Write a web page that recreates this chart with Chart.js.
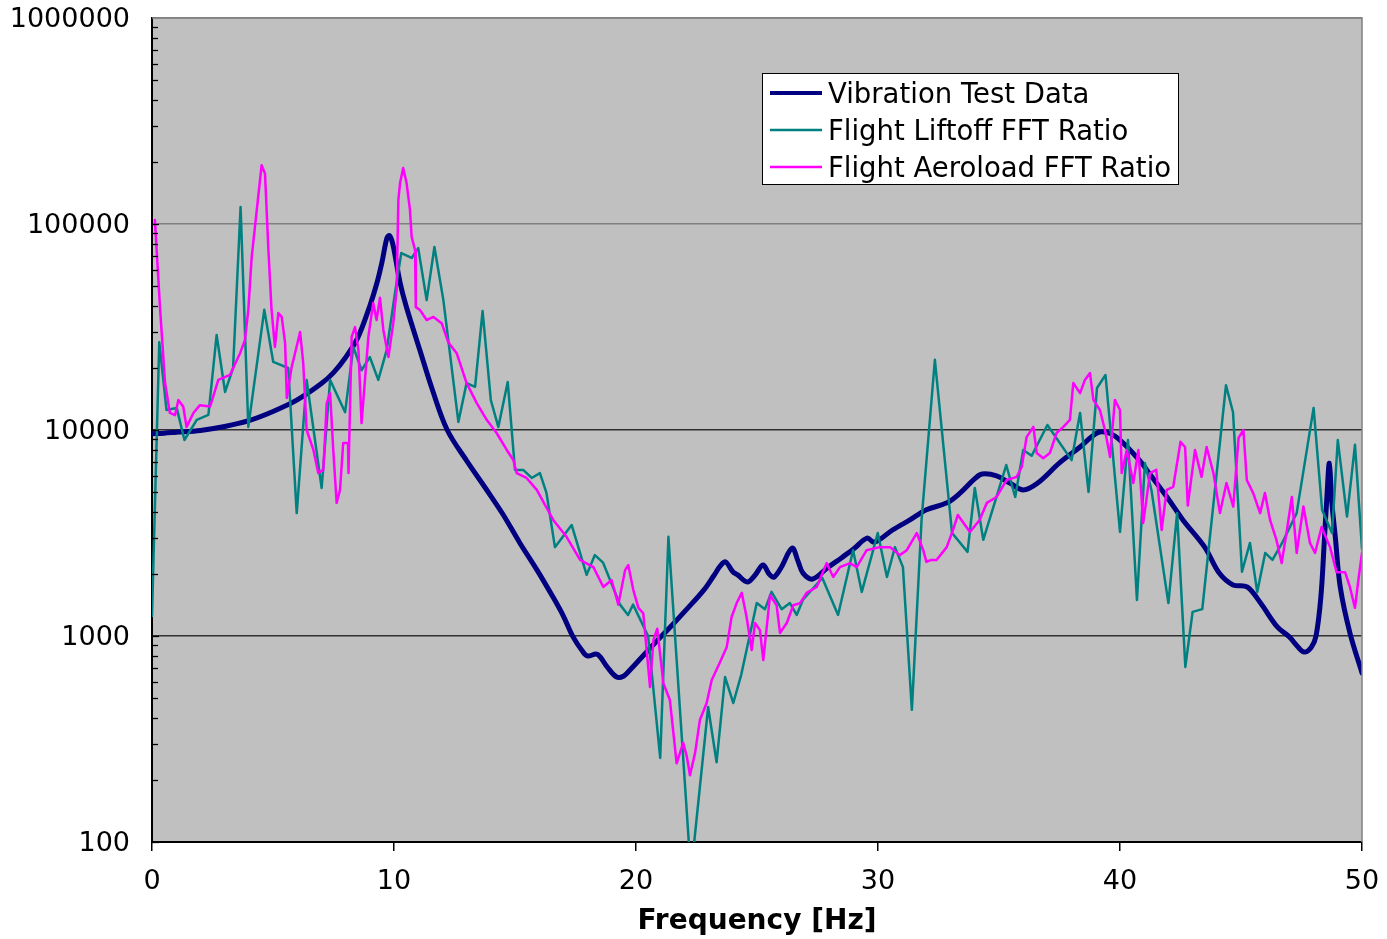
<!DOCTYPE html>
<html>
<head>
<meta charset="utf-8">
<script src="https://cdn.jsdelivr.net/npm/chart.js@4.4.1/dist/chart.umd.min.js"></script>
<style>
html,body{margin:0;padding:0;background:#fff;}
#wrap{width:1387px;height:939px;position:relative;}
</style>
</head>
<body>
<div id="wrap"><canvas id="c" width="1387" height="939"></canvas></div>
<script>
// ---------- DATA ----------
const seriesNames = ["Vibration Test Data", "Flight Liftoff FFT Ratio", "Flight Aeroload FFT Ratio"];
const xTicks = [0, 10, 20, 30, 40, 50];
const yTicks = [100, 1000, 10000, 100000, 1000000];

const vibFreq = [0,0.5,1,2,3,4,5,6,7,7.5,8,8.5,9,9.3,9.5,9.7,9.8,9.9,10.0,10.25,10.5,11.07,11.6,12.2,13.0,13.84,14.5,15.2,15.9,16.57,17.0,17.4,17.8,18.0,18.4,18.8,19.2,19.5,19.75,20.2,20.8,21.4,22.1,22.8,23.2,23.5,23.7,24.0,24.2,24.6,24.9,25.25,25.5,25.7,26.0,26.45,26.7,26.9,27.3,27.9,28.5,29.0,29.55,29.8,30.0,30.6,31.3,32.0,32.85,33.4,34.0,34.3,34.9,35.45,36.0,36.6,37.5,38.35,39.05,39.5,40.0,40.8,41.2,41.94,42.6,43.5,44.1,44.67,45.25,45.8,46.5,47.0,47.3,47.6,47.9,48.1,48.3,48.45,48.55,48.65,48.75,48.9,49.1,49.5,50.0];
const vibVal = [9600,9650,9750,9950,10400,11100,12300,14000,16800,19000,22500,28000,40000,52000,65000,85000,88000,84000,75000,52000,40000,24400,15500,10000,7100,5100,3900,2830,2100,1545,1250,990,840,800,815,710,632,640,684,780,930,1100,1350,1670,1950,2200,2290,2050,1980,1830,1960,2210,2000,1930,2150,2670,2300,2020,1890,2140,2400,2650,2990,2860,2900,3270,3650,4100,4430,4950,5800,6110,5990,5530,5120,5530,6920,8270,9670,9700,8940,7140,6180,4730,3660,2700,2020,1770,1730,1450,1107,990,900,836,880,1000,1545,3000,4730,6900,4500,3000,1730,1035,661];

const liftFreq = [0,0.3,0.6,1.02,1.34,1.85,2.33,2.67,3.02,3.35,3.66,3.98,4.64,5.01,5.63,5.98,6.39,7.01,7.36,7.98,8.32,8.66,9.0,9.35,9.7,10.04,10.3,10.73,11.0,11.35,11.67,12.04,12.66,13.0,13.35,13.66,14.0,14.31,14.7,15.0,15.34,15.69,16.03,16.3,16.65,17.34,17.96,18.3,18.64,19.34,19.67,19.88,20.5,21.0,21.34,22.27,22.98,23.33,23.68,24.02,24.35,24.99,25.33,25.6,26.02,26.36,26.64,26.9,27.7,28.35,28.97,29.33,29.99,30.37,30.7,31.03,31.4,31.8,32.35,33.06,33.7,34.0,34.35,35.3,35.67,36.0,36.35,37.0,38.0,38.35,38.7,39.05,39.4,40.0,40.33,40.7,41.03,41.3,42.0,42.36,42.7,43.0,43.4,44.38,44.67,45.04,45.37,45.67,46.0,46.3,46.7,47.3,48.0,48.35,48.76,49.0,49.38,49.71,50.0];
const liftVal = [1250,26700,12500,12800,8940,11190,11830,28900,15300,20000,121000,10350,38300,21400,20000,3950,17500,5230,17500,12200,25300,19500,22600,17500,24500,46200,72300,68400,76400,42700,77300,42700,10940,16900,16200,37800,13990,10350,17100,6400,6400,5850,6180,4950,2700,3460,1980,2470,2270,1420,1265,1420,1000,256,3030,70,452,244,632,473,650,1445,1350,1637,1350,1445,1265,1500,1914,1265,2610,1637,3160,1934,2700,2160,438,3660,21900,3160,2560,5230,2930,6760,4730,8000,7500,10580,7140,12100,5000,16000,18500,3200,8940,1497,6920,5100,1445,3950,708,1310,1350,16500,12200,2050,2830,1637,2530,2340,2830,3950,12800,4100,3160,8940,3800,8470,2650];

const aeroFreq = [0.12,0.33,0.54,0.74,0.95,1.09,1.29,1.43,1.71,1.98,2.4,2.74,3.22,3.64,3.84,3.98,4.12,4.33,4.53,4.67,4.81,4.94,5.08,5.22,5.36,5.5,5.57,5.77,5.91,6.12,6.25,6.39,6.67,6.87,7.08,7.22,7.36,7.49,7.63,7.77,7.9,8.1,8.12,8.25,8.39,8.53,8.66,8.8,8.94,9.14,9.28,9.42,9.56,9.77,9.97,10.11,10.18,10.25,10.38,10.52,10.66,10.73,10.87,10.9,11.07,11.35,11.63,11.97,12.24,12.59,13.0,13.42,13.83,14.24,14.66,14.93,15.07,15.48,15.9,16.58,17.13,17.69,18.24,18.65,18.99,19.27,19.55,19.68,19.89,20.1,20.3,20.58,20.72,20.88,21.13,21.4,21.68,21.95,22.1,22.23,22.44,22.64,22.92,23.13,23.47,23.75,23.95,24.16,24.37,24.57,24.78,24.92,25.12,25.26,25.54,25.81,25.95,26.23,26.5,26.78,27.05,27.47,27.88,28.15,28.43,28.84,29.12,29.53,30.08,30.5,30.9,31.19,31.6,31.87,32.0,32.2,32.42,32.84,33.1,33.3,33.8,34.2,34.5,34.9,35.32,35.73,35.94,36.14,36.42,36.56,36.83,37.1,37.38,37.66,37.93,38.07,38.35,38.55,38.76,38.9,39.17,39.38,39.59,39.79,40.0,40.07,40.28,40.55,40.76,40.96,41.24,41.5,41.72,41.93,42.2,42.5,42.69,42.8,43.1,43.37,43.58,43.86,44.13,44.4,44.68,44.9,45.1,45.24,45.5,45.79,45.99,46.2,46.47,46.68,46.88,47.1,47.3,47.58,47.85,48.06,48.33,48.68,48.95,49.3,49.5,49.71,49.85,50.0];
const aeroVal = [104500,39500,16900,12100,11800,14000,13000,10350,12100,13200,13000,17500,18500,23600,27300,38300,69200,117000,193000,176000,74800,38300,25300,37000,35400,26400,14300,20200,23600,29900,21100,10000,8000,6180,6400,13500,15100,8000,4430,5120,8640,8640,6180,28300,31600,24500,10800,17500,28300,41400,34200,43800,30600,22600,33000,47900,131000,158000,187000,158000,117000,86500,74800,39500,38300,34200,35400,33000,26700,23600,16900,13500,11200,9670,8000,7150,6180,5850,5120,3660,3030,2340,2160,1730,1870,1420,2090,2210,1670,1370,1290,565,955,1085,590,489,241,303,260,211,270,391,473,611,745,885,1237,1445,1620,1237,855,1156,1070,764,1580,1410,1035,1156,1410,1445,1620,1730,2260,1934,2160,2260,2160,2610,2700,2700,2470,2610,3160,2610,2290,2340,2340,2700,3270,3870,3200,3660,4430,4730,5720,5920,6610,9240,10350,7730,7300,7730,9670,10350,11200,16900,15100,17500,18900,14000,12500,10000,7400,14000,12500,6180,8000,5530,8000,3540,6180,6400,3270,5120,5300,8760,8270,4300,8000,5920,8270,6180,3950,5530,4250,9150,10000,5720,4950,3950,4950,3660,2910,2260,3160,4730,2530,4250,2830,2530,3380,2700,2040,2040,1730,1370,1870,2530];

// ---------- CHART ----------
const FONT = "'DejaVu Sans', Verdana, sans-serif";
const pts = (xs, ys) => xs.map((x, i) => ({x: x, y: ys[i]}));
const colors = ["#000080", "#008080", "#FF00FF"];
const widths = [5, 2.5, 2.5];

const bgPlugin = {
  id: 'bg',
  beforeDraw(chart) {
    const {ctx, chartArea: a} = chart;
    ctx.save();
    ctx.fillStyle = '#C0C0C0';
    ctx.fillRect(a.left, a.top, a.right - a.left, a.bottom - a.top);
    ctx.restore();
  },
  afterDraw(chart) {
    const {ctx, chartArea: a} = chart;
    const ys = chart.scales.y;
    ctx.save();
    ctx.strokeStyle = '#808080';
    ctx.lineWidth = 1.5;
    ctx.beginPath();
    ctx.moveTo(a.left, a.top); ctx.lineTo(a.right, a.top); ctx.lineTo(a.right, a.bottom);
    ctx.stroke();
    ctx.strokeStyle = '#000';
    ctx.lineWidth = 1.3;
    for (let d = 100; d < 1000000; d *= 10) {
      for (let m = 1; m <= 9; m++) {
        const y = Math.round(ys.getPixelForValue(d * m)) + 0.5;
        const len = m === 1 ? 7 : 6;
        ctx.beginPath();
        ctx.moveTo(a.left, y); ctx.lineTo(a.left + len, y);
        ctx.stroke();
      }
    }
    const lx = 762, ly = 73, lw = 416, lh = 111;
    ctx.fillStyle = '#fff';
    ctx.fillRect(lx, ly, lw, lh);
    ctx.strokeStyle = '#000';
    ctx.lineWidth = 1;
    ctx.strokeRect(lx + 0.5, ly + 0.5, lw, lh);
    ctx.font = '27.5px ' + FONT;
    ctx.textBaseline = 'middle';
    ctx.textAlign = 'left';
    chart.data.datasets.forEach((ds, i) => {
      const y = 93 + i * 37;
      ctx.strokeStyle = ds.borderColor;
      ctx.lineWidth = i === 0 ? 4 : 2.5;
      ctx.beginPath();
      ctx.moveTo(770, y); ctx.lineTo(822, y);
      ctx.stroke();
      ctx.fillStyle = '#000';
      ctx.fillText(ds.label, 828, y + 2.5);
    });
    ctx.restore();
  }
};

new Chart(document.getElementById('c'), {
  type: 'line',
  data: {
    datasets: [
      {label: seriesNames[0], data: pts(vibFreq, vibVal), borderColor: colors[0], borderWidth: widths[0], tension: 0.35, order: 2},
      {label: seriesNames[1], data: pts(liftFreq, liftVal), borderColor: colors[1], borderWidth: widths[1], tension: 0, order: 1},
      {label: seriesNames[2], data: pts(aeroFreq, aeroVal), borderColor: colors[2], borderWidth: widths[2], tension: 0, order: 0}
    ]
  },
  options: {
    responsive: false,
    animation: false,
    events: [],
    parsing: true,
    elements: {point: {radius: 0}, line: {borderJoinStyle: 'round', borderCapStyle: 'round'}},
    layout: {padding: {top: 18, right: 25, left: 0, bottom: 0}},
    plugins: {legend: {display: false}, tooltip: {enabled: false}},
    scales: {
      x: {
        type: 'linear', min: 0, max: 50,
        afterBuildTicks: s => { s.ticks = xTicks.map(v => ({value: v})); },
        afterFit: s => { s.height = 97; s.paddingLeft = 0; s.paddingRight = 0; },
        ticks: {font: {family: FONT, size: 27}, color: '#000', padding: 15, maxRotation: 0},
        grid: {drawOnChartArea: false, drawTicks: true, tickLength: 9, color: '#000', lineWidth: 1.5},
        border: {color: '#000', width: 2},
        title: {display: true, text: 'Frequency [Hz]', font: {family: FONT, size: 28, weight: 'bold'}, color: '#000', padding: {top: 0, bottom: 0}}
      },
      y: {
        type: 'logarithmic', min: 100, max: 1000000,
        afterBuildTicks: s => { s.ticks = yTicks.map(v => ({value: v})); },
        afterFit: s => { s.width = 152; s.paddingTop = 0; s.paddingBottom = 0; },
        ticks: {font: {family: FONT, size: 27}, color: '#000', padding: 22, labelOffset: 2, callback: v => String(v)},
        grid: {drawTicks: false, color: c => (c.tick && (c.tick.value === 100000 || c.tick.value === 1000000)) ? '#808080' : '#303030', lineWidth: 1.5},
        border: {color: '#000', width: 2}
      }
    }
  },
  plugins: [bgPlugin]
});
</script>
</body>
</html>
